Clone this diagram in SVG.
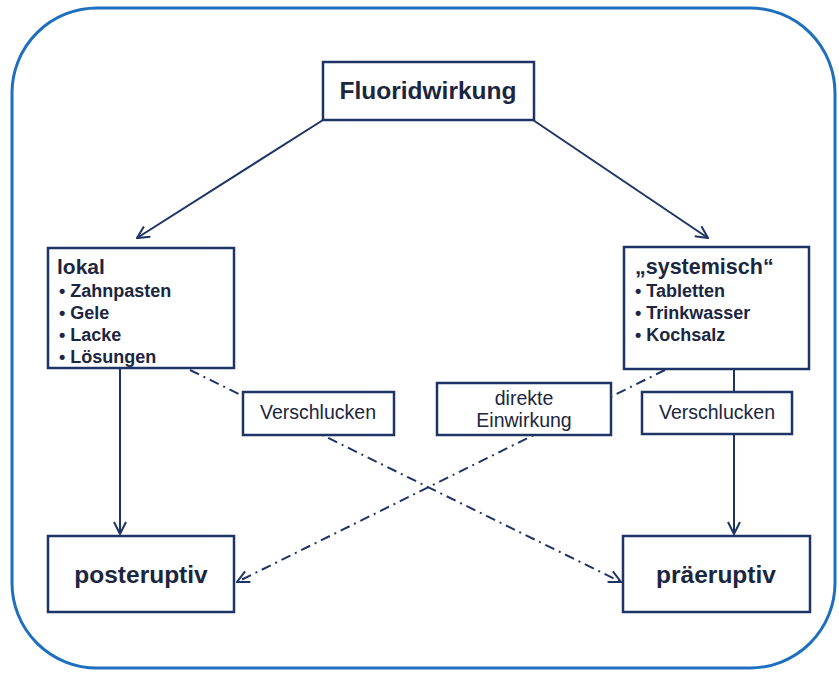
<svg xmlns="http://www.w3.org/2000/svg" width="839" height="677" viewBox="0 0 839 677">
<style>
.box{fill:#fff;stroke:#1e3466;stroke-width:2.5}
.t{font-family:"Liberation Sans",Arial,sans-serif;fill:#1b2640}
.b{font-weight:bold}
.ln{fill:none;stroke:#1e3466;stroke-width:2}
.dd{fill:none;stroke:#1e3466;stroke-width:2;stroke-dasharray:10,5,2,5}
</style>
<defs>
<marker id="ah" viewBox="0 0 14 14" refX="13" refY="7" markerWidth="14" markerHeight="14" markerUnits="userSpaceOnUse" orient="auto">
<path d="M1,1 L13,7 L1,13" fill="none" stroke="#1e3466" stroke-width="2"/>
</marker>
</defs>
<rect x="12" y="8" width="823" height="660" rx="85" ry="85" fill="#fff" stroke="#1f6fbf" stroke-width="3"/>
<g id="connectors">
<line class="ln" x1="323" y1="120" x2="137" y2="238" marker-end="url(#ah)"/>
<line class="ln" x1="533" y1="120" x2="708" y2="238" marker-end="url(#ah)"/>
<line class="ln" x1="120" y1="368" x2="120" y2="534" marker-end="url(#ah)"/>
<line class="ln" x1="734" y1="369" x2="734" y2="534" marker-end="url(#ah)"/>
<line class="dd" x1="190" y1="370" x2="621" y2="582" marker-end="url(#ah)"/>
<line class="dd" x1="665" y1="370" x2="237" y2="582" marker-end="url(#ah)"/>
</g>
<g id="fluoridwirkung">
<rect class="box" x="323" y="62" width="211" height="58"/>
<text class="t b" x="428" y="99" font-size="24.5" text-anchor="middle">Fluoridwirkung</text>
</g>
<g id="lokal">
<rect class="box" x="48" y="248" width="186" height="120"/>
<text class="t b" x="57" y="274" font-size="21">lokal</text>
<text class="t b" font-size="18"><tspan x="59" y="297">• Zahnpasten</tspan><tspan x="59" y="319">• Gele</tspan><tspan x="59" y="341">• Lacke</tspan><tspan x="59" y="363">• Lösungen</tspan></text>
</g>
<g id="systemisch">
<rect class="box" x="624" y="247" width="185" height="122"/>
<text class="t b" x="635" y="274" font-size="21.5">„systemisch“</text>
<text class="t b" font-size="18"><tspan x="635" y="297">• Tabletten</tspan><tspan x="635" y="319">• Trinkwasser</tspan><tspan x="635" y="341">• Kochsalz</tspan></text>
</g>
<g id="verschlucken1">
<rect class="box" x="243" y="392" width="151" height="43"/>
<text class="t" x="318" y="419" font-size="19.5" text-anchor="middle">Verschlucken</text>
</g>
<g id="direkte">
<rect class="box" x="437" y="383" width="174" height="52"/>
<text class="t" x="524" y="405" font-size="19.5" text-anchor="middle">direkte</text>
<text class="t" x="524" y="427" font-size="19.5" text-anchor="middle">Einwirkung</text>
</g>
<g id="verschlucken2">
<rect class="box" x="642" y="392" width="150" height="42"/>
<text class="t" x="717" y="419" font-size="19.5" text-anchor="middle">Verschlucken</text>
</g>
<g id="posteruptiv">
<rect class="box" x="48" y="536" width="186" height="76"/>
<text class="t b" x="141" y="583" font-size="24.5" text-anchor="middle">posteruptiv</text>
</g>
<g id="praeeruptiv">
<rect class="box" x="623" y="536" width="187" height="76"/>
<text class="t b" x="716" y="583" font-size="24.5" text-anchor="middle">präeruptiv</text>
</g>
</svg>
